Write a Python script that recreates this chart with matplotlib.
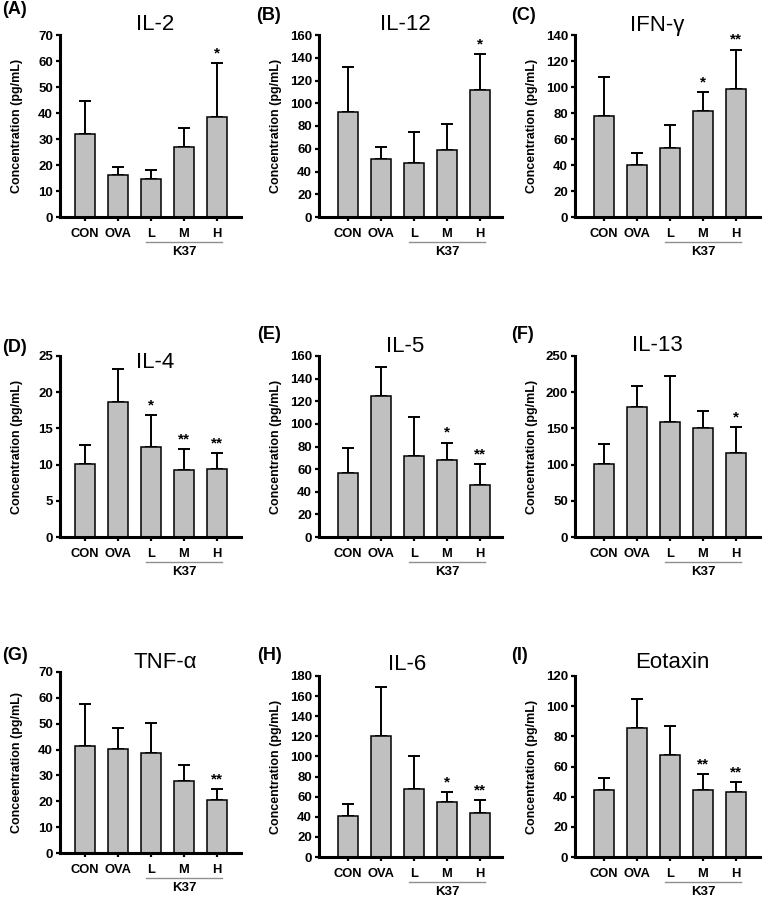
import matplotlib
matplotlib.use('Agg')
import matplotlib.pyplot as plt
import matplotlib.transforms as mtransforms

plt.rcParams['font.family'] = ['Liberation Sans', 'DejaVu Sans']

groups = ['CON', 'OVA', 'L', 'M', 'H']

panels = ['(A)', '(B)', '(C)', '(D)', '(E)', '(F)', '(G)', '(H)', '(I)']
titles = ['IL-2', 'IL-12', 'IFN-γ', 'IL-4', 'IL-5', 'IL-13', 'TNF-α', 'IL-6', 'Eotaxin']

il2 = [32.0, 16.0, 14.8, 27.0, 38.4]
il2_sd = [12.7, 3.3, 3.2, 7.3, 20.7]
il12 = [92.5, 51.0, 47.3, 59.3, 111.6]
il12_sd = [39.5, 10.7, 27.3, 22.6, 31.4]
ifng = [77.6, 40.1, 53.4, 81.4, 98.1]
ifng_sd = [29.8, 9.2, 17.5, 14.4, 30.6]
il4 = [10.15, 18.6, 12.45, 9.3, 9.4]
il4_sd = [2.55, 4.6, 4.35, 2.8, 2.2]
il5 = [57.0, 124.4, 71.5, 68.5, 46.2]
il5_sd = [22.0, 26.2, 35.0, 15.0, 18.5]
il13 = [100.5, 179.4, 159.0, 150.8, 116.0]
il13_sd = [27.5, 29.1, 63.0, 22.6, 35.7]
tnfa = [41.5, 40.2, 38.5, 28.0, 20.5]
tnfa_sd = [16.0, 8.2, 11.8, 5.9, 4.2]
il6 = [40.8, 120.2, 68.1, 54.8, 44.2]
il6_sd = [11.7, 48.5, 32.5, 10.0, 12.3]
eotaxin = [44.7, 85.2, 67.7, 44.7, 42.9]
eotaxin_sd = [8.0, 19.7, 19.1, 10.2, 6.9]

means = [il2, il12, ifng, il4, il5, il13, tnfa, il6, eotaxin]
sds = [il2_sd, il12_sd, ifng_sd, il4_sd, il5_sd, il13_sd, tnfa_sd, il6_sd, eotaxin_sd]

stars = [
    ['', '', '', '', '*'],
    ['', '', '', '', '*'],
    ['', '', '', '*', '**'],
    ['', '', '*', '**', '**'],
    ['', '', '', '*', '**'],
    ['', '', '', '', '*'],
    ['', '', '', '', '**'],
    ['', '', '', '*', '**'],
    ['', '', '', '**', '**'],
]

ymax = [70, 160, 140, 25, 160, 250, 70, 180, 120]
ystep = [10, 20, 20, 5, 20, 50, 10, 20, 20]
ylabels = ['Concentration (pg/mL)'] * 6 + ['Conceentration (pg/mL)'] + ['Concentration (pg/mL)'] * 2

W, H = 764, 902
fig = plt.figure(figsize=(W / 100, H / 100), dpi=100)

# layout in pixels: spine x, first bar x, right end of x axis
col_spine = [60, 319, 575]
col_first = [85, 348, 604]
col_right = [241, 502, 760]
# per panel: top (ymax) pixel, zero pixel
row_top = [35, 35, 35, 356, 356, 356, 672, 676, 676]
row_zero = [217, 217, 217, 537, 537, 537, 853, 857, 857]
title_xy = [(155, 25), (405, 25), (657, 25),
            (155, 362), (405, 346), (657, 345),
            (165, 663), (407, 665), (672, 663)]
label_xy = [(2, 10), (256, 15), (511, 15),
            (2, 348), (257, 334), (511, 334),
            (2, 656), (257, 656), (511, 656)]
ylab_x = [17, 276, 532]
step = 33.0


def px(x, y):
    return x / W, 1 - y / H


for i in range(9):
    c = i % 3
    left, right = col_spine[c], col_right[c]
    top, zero = row_top[i], row_zero[i]
    x0, y0 = px(left, zero)
    ax = fig.add_axes([x0, y0, (right - left) / W, (zero - top) / H])
    ax.set_xlim(-(col_first[c] - left) / step, (right - col_first[c]) / step)
    ax.set_ylim(0, ymax[i])
    xs = list(range(len(groups)))
    ax.bar(xs, means[i], width=0.6, color='#c0c0c0', edgecolor='black', linewidth=1.1, zorder=2)
    ax.errorbar(xs, means[i], yerr=[[0] * 5, sds[i]], fmt='none', ecolor='black',
                elinewidth=1.4, capsize=4, capthick=1.4, zorder=1)
    for x, m, s, st in zip(xs, means[i], sds[i], stars[i]):
        if st:
            ax.annotate(st, (x, m + s), xytext=(0, 2), textcoords='offset points',
                        ha='center', va='bottom', fontsize=11, fontweight='bold')
    for side in ['top', 'right']:
        ax.spines[side].set_visible(False)
    for side in ['left', 'bottom']:
        ax.spines[side].set_linewidth(2.2)
    ax.set_yticks(range(0, ymax[i] + 1, ystep[i]))
    ax.set_xticks(xs)
    ax.set_xticklabels(groups)
    ax.tick_params(axis='y', direction='out', length=3, width=1.6, labelsize=9.5, pad=2)
    ax.tick_params(axis='x', direction='out', length=3, width=1.6, labelsize=9.3, pad=5)
    for lab in ax.get_xticklabels() + ax.get_yticklabels():
        lab.set_fontweight('bold')

    hpx = zero - top
    trans = mtransforms.blended_transform_factory(ax.transData, ax.transAxes)
    ax.plot([1.84, 4.14], [-25 / hpx, -25 / hpx], color='#909090', lw=1.0,
            transform=trans, clip_on=False)
    ax.text(3, -35 / hpx, 'K37', transform=trans, ha='center', va='center',
            fontsize=9.5, fontweight='bold')

    fig.text(*px(*title_xy[i]), titles[i], ha='center', va='center', fontsize=16)
    fig.text(*px(*label_xy[i]), panels[i], ha='left', va='center', fontsize=13, fontweight='bold')
    fig.text(*px(ylab_x[c], (top + zero) / 2), ylabels[i], rotation=90, ha='center',
             va='center', fontsize=9, fontweight='bold')

fig.savefig('out.png', dpi=100)
